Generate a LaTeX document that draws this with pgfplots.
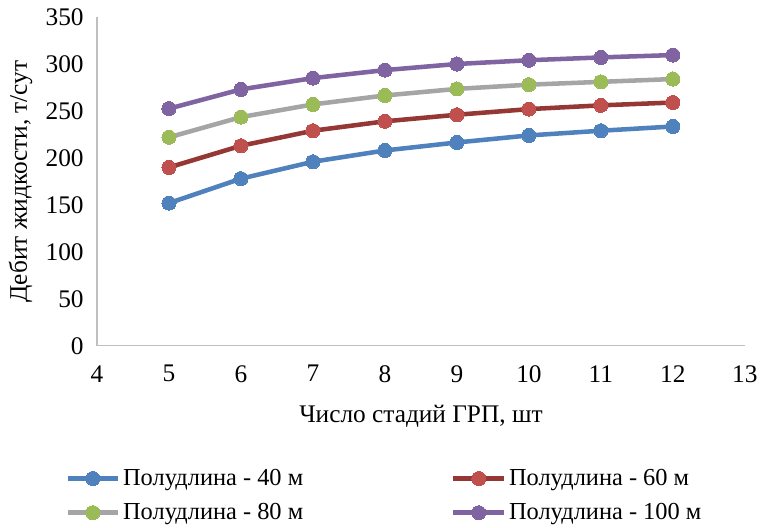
\documentclass[border=0pt]{standalone}
\usepackage{fontspec}
\setmainfont{Liberation Serif}
\usepackage{pgfplots}
\pgfplotsset{compat=1.18}

\definecolor{cblue}{HTML}{4F81BD}
\definecolor{credline}{HTML}{953735}
\definecolor{credmark}{HTML}{C0504D}
\definecolor{cgrayline}{HTML}{A5A5A5}
\definecolor{cgreenmark}{HTML}{9BBB59}
\definecolor{cpurple}{HTML}{8064A2}
\definecolor{caxis}{HTML}{BFBFBF}

\begin{document}
\begin{tikzpicture}[x=1pt,y=1pt]
\begin{axis}[
  scale only axis,
  width=486pt, height=246.75pt,
  xmin=4, xmax=13, ymin=0, ymax=350,
  xtick={4,5,...,13}, ytick={0,50,...,350},
  axis lines*=left,
  axis line style={caxis, line width=0.8pt},
  separate axis lines,
  x axis line style={-}, y axis line style={-},
  tick style={draw=none},
  /pgf/number format/assume math mode=true,
  ticklabel style={font=\fontsize{19}{22}\selectfont},
  xticklabel style={yshift=-11pt},
  yticklabel style={xshift=-6.5pt},
  xlabel={Число стадий ГРП, шт},
  ylabel={Дебит жидкости, т/сут},
  label style={font=\fontsize{19}{22}\selectfont},
  xlabel style={yshift=-10pt},
  ylabel style={yshift=3pt},
  legend columns=2,
  legend style={at={(0.444,-0.455)}, anchor=center, draw=none,
    font=\fontsize{18.3}{21}\selectfont,
    /tikz/every even column/.append style={column sep=109pt},
    row sep=8pt},
  legend cell align=left,
  legend image code/.code={
    \draw[#1, mark=none] (0pt,0pt) -- (38pt,0pt);
    \draw[#1, only marks] plot coordinates {(19pt,0pt)};
  },
  every axis plot/.append style={line width=3.4pt, mark=*, mark size=5.3pt},
]
\addplot[color=cblue, mark options={fill=cblue, draw=cblue, line width=0pt}] coordinates {
  (5,152) (6,178) (7,196) (8,208) (9,216.5) (10,224) (11,229) (12,233.5)};
\addlegendentry{Полудлина - 40 м}
\addplot[color=credline, mark options={fill=credmark, draw=credmark, line width=0pt}] coordinates {
  (5,190) (6,213) (7,229) (8,239) (9,246) (10,252) (11,256) (12,259)};
\addlegendentry{Полудлина - 60 м}
\addplot[color=cgrayline, mark options={fill=cgreenmark, draw=cgreenmark, line width=0pt}] coordinates {
  (5,222) (6,243.5) (7,257) (8,266.5) (9,273.5) (10,278) (11,281) (12,284)};
\addlegendentry{Полудлина - 80 м}
\addplot[color=cpurple, mark options={fill=cpurple, draw=cpurple, line width=0pt}] coordinates {
  (5,252.5) (6,273) (7,285) (8,293.5) (9,300) (10,304) (11,307) (12,309.5)};
\addlegendentry{Полудлина - 100 м}
\end{axis}
\useasboundingbox ([xshift=-72.75pt,yshift=-136.5pt]current axis.south west)
  rectangle ([xshift=12.75pt,yshift=12.75pt]current axis.north east);
\end{tikzpicture}
\end{document}
